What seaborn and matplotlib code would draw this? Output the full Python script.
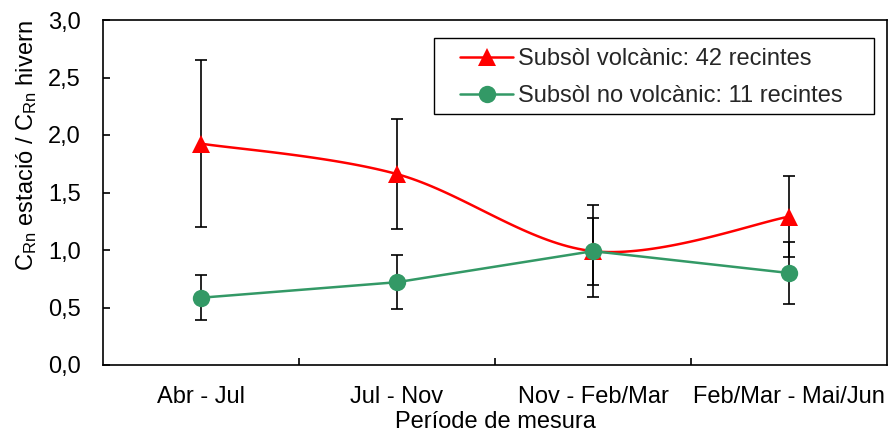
import numpy as np
import pandas as pd
import matplotlib
matplotlib.use("Agg")
import matplotlib.pyplot as plt
from matplotlib.lines import Line2D
from matplotlib.patches import Rectangle
from matplotlib.ticker import FixedLocator, FuncFormatter
import seaborn as sns

# Seasonal / winter radon concentration ratios per measurement period
periods = ["Abr - Jul", "Jul - Nov", "Nov - Feb/Mar", "Feb/Mar - Mai/Jun"]
volc_mean = [1.925, 1.66, 0.99, 1.29]
volc_err = [0.725, 0.48, 0.40, 0.355]
novolc_mean = [0.585, 0.72, 0.99, 0.80]
novolc_err = [0.195, 0.235, 0.29, 0.27]

volc_label = "Subsòl volcànic: 42 recintes"
novolc_label = "Subsòl no volcànic: 11 recintes"

RED = "#FF0000"
GREEN = "#339966"
FS = 17

sns.set_theme(style="white")
plt.rcParams["font.family"] = ["Liberation Sans", "DejaVu Sans"]
plt.rcParams["mathtext.fontset"] = "custom"
plt.rcParams["mathtext.rm"] = "Liberation Sans"
plt.rcParams["mathtext.it"] = "Liberation Sans:italic"
plt.rcParams["font.size"] = FS


def smooth_curve(xs, ys, n=40):
    """Bezier smoothing through points (Catmull-Rom style control points)."""
    pts = np.column_stack([xs, ys]).astype(float)
    out = []
    for i in range(len(pts) - 1):
        p0 = pts[i - 1] if i > 0 else pts[i]
        p1 = pts[i]
        p2 = pts[i + 1]
        p3 = pts[i + 2] if i + 2 < len(pts) else pts[i + 1]
        c1 = p1 + (p2 - p0) / 6.0
        c2 = p2 - (p3 - p1) / 6.0
        t = np.linspace(0, 1, n)[:, None]
        seg = ((1 - t) ** 3) * p1 + 3 * ((1 - t) ** 2) * t * c1 + 3 * (1 - t) * t ** 2 * c2 + t ** 3 * p2
        out.append(seg if i == 0 else seg[1:])
    arr = np.vstack(out)
    return arr[:, 0], arr[:, 1]


xpos = np.arange(len(periods))
df = pd.DataFrame({"x": xpos, "volc": volc_mean, "novolc": novolc_mean})

W, H = 888, 432
fig = plt.figure(figsize=(W / 100, H / 100), dpi=100)
ax_l, ax_b, ax_w, ax_h = 103, 67, 784, 345
ax = fig.add_axes([ax_l / W, ax_b / H, ax_w / W, ax_h / H])

# Error bars
ax.errorbar(xpos, volc_mean, yerr=volc_err, fmt="none", ecolor="black",
            elinewidth=1.2, capsize=4.5, capthick=1.2, zorder=2)
ax.errorbar(xpos, novolc_mean, yerr=novolc_err, fmt="none", ecolor="black",
            elinewidth=1.2, capsize=4.5, capthick=1.2, zorder=2)

# Smoothed volcanic series
sx, sy = smooth_curve(xpos, volc_mean)
sns.lineplot(x=sx, y=sy, ax=ax, color=RED, linewidth=1.8, sort=False, zorder=3)
ax.plot(df["x"], df["volc"], linestyle="none", marker="^", markersize=12.5,
        color=RED, markeredgewidth=0, zorder=4)

# Non-volcanic series
sns.lineplot(data=df, x="x", y="novolc", ax=ax, color=GREEN, linewidth=1.8, zorder=5)
ax.plot(df["x"], df["novolc"], linestyle="none", marker="o", markersize=12.5,
        color=GREEN, markeredgewidth=0, zorder=6)

ax.set_xlim(-0.5, 3.5)
ax.set_ylim(0, 3.0)

ax.set_xticks(xpos)
ax.set_xticklabels(periods)
ax.xaxis.set_minor_locator(FixedLocator([0.5, 1.5, 2.5]))
ax.tick_params(axis="x", which="major", length=0, pad=15, labelsize=FS, colors="black")
ax.tick_params(axis="x", which="minor", direction="in", length=5, width=1.2,
               bottom=True, colors="black")

ax.set_yticks(np.arange(0, 3.01, 0.5))
ax.yaxis.set_major_formatter(FuncFormatter(lambda v, p: f"{v:.1f}".replace(".", ",")))
ax.tick_params(axis="y", which="major", direction="in", length=5, width=1.2, left=True,
               pad=16, labelsize=FS, colors="black")

for s in ax.spines.values():
    s.set_visible(True)
    s.set_color("black")
    s.set_linewidth(1.2)

ax.set_xlabel("Període de mesura", fontsize=FS, labelpad=2, color="black")
ax.set_ylabel(r"C$_{\mathrm{Rn}}$ estació / C$_{\mathrm{Rn}}$ hivern",
              fontsize=FS, color="black", va="center")
ax.yaxis.set_label_coords((27 - ax_l) / ax_w, (H - ax_b - 146) / ax_h)


def to_axes(px, py):
    """Pixel position (from top-left of the figure) to axes fraction."""
    return (px - ax_l) / ax_w, (H - py - ax_b) / ax_h


# Legend box and entries
bx0, by0 = to_axes(434, 114)
bx1, by1 = to_axes(874, 38)
ax.add_patch(Rectangle((bx0, by0), bx1 - bx0, by1 - by0, transform=ax.transAxes,
                       facecolor="white", edgecolor="black", linewidth=1.0, zorder=7))

handles = [
    Line2D([], [], color=RED, linewidth=1.8, marker="^", markersize=12.5, markeredgewidth=0),
    Line2D([], [], color=GREEN, linewidth=1.8, marker="o", markersize=12.5, markeredgewidth=0),
]
leg = ax.legend(handles, [volc_label, novolc_label], loc="center left",
                bbox_to_anchor=to_axes(460, 77.5), borderaxespad=0, frameon=False,
                fontsize=FS, handlelength=2.25, handletextpad=0.2,
                borderpad=0, labelspacing=0.62)
leg.set_zorder(8)

fig.savefig("out.png", dpi=100, facecolor="white")
